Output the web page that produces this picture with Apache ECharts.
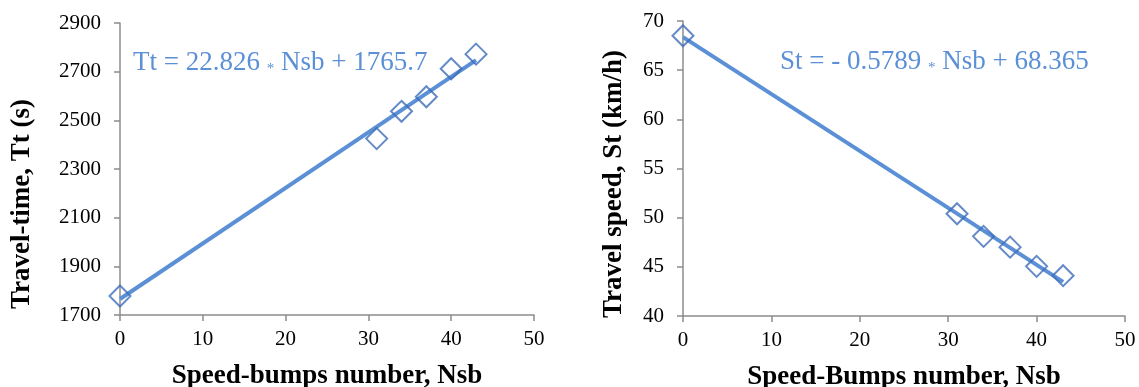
<!DOCTYPE html>
<html><head><meta charset="utf-8">
<script src="https://cdn.jsdelivr.net/npm/echarts@6/dist/echarts.min.js"></script>
<style>html,body{margin:0;padding:0;background:#fff}#c{width:1139px;height:387px}</style>
</head><body><div id="c"></div>
<script>
// Data
const nsb = [0, 31, 34, 37, 40, 43];
const travelTime = [1778, 2425, 2537, 2597, 2712, 2772];
const travelSpeed = [68.5, 50.4, 48.1, 47.0, 45.05, 44.1];
const ttFit = {slope: 22.826, intercept: 1765.7};
const stFit = {slope: -0.5789, intercept: 68.365};
const fitRange = [0, 43];
const xTicks = {min: 0, max: 50, interval: 10};
const ttTicks = {min: 1700, max: 2900, interval: 200};
const stTicks = {min: 40, max: 70, interval: 5};
const labels = {
  tt: 'Travel-time, Tt (s)', st: 'Travel speed, St (km/h)',
  x1: 'Speed-bumps number, Nsb', x2: 'Speed-Bumps number, Nsb'
};

const font = '"Liberation Serif","Times New Roman",serif';
const lineColor = '#5b8fd6';
const markColor = '#3d6db9';
const axisGray = '#8c8c8c';

function fitLine(f) { return fitRange.map(x => [x, f.slope * x + f.intercept]); }

function xAxis(idx, name) {
  return {
    type: 'value', gridIndex: idx, min: xTicks.min, max: xTicks.max, interval: xTicks.interval,
    name: name, nameLocation: 'middle', nameGap: 48,
    nameTextStyle: {fontFamily: font, fontSize: 27, fontWeight: 'bold', color: '#000'},
    axisLine: {show: true, onZero: false, lineStyle: {color: axisGray, width: 1.5}},
    axisTick: {show: true, length: 6, lineStyle: {color: axisGray, width: 1.5}},
    axisLabel: {fontFamily: font, fontSize: 21, color: '#000', margin: 14},
    splitLine: {show: false}
  };
}
function yAxis(idx, t) {
  return {
    type: 'value', gridIndex: idx, min: t.min, max: t.max, interval: t.interval,
    axisLine: {show: true, onZero: false, lineStyle: {color: axisGray, width: 1.5}},
    axisTick: {show: true, length: 6, lineStyle: {color: axisGray, width: 1.5}},
    axisLabel: {fontFamily: font, fontSize: 21, color: '#000', margin: 19,
                formatter: v => String(v)},
    splitLine: {show: false}
  };
}
const eqRich = {
  a: {fontFamily: font, fontSize: 27, fill: lineColor, lineHeight: 30},
  s: {fontFamily: font, fontSize: 15, fill: lineColor, lineHeight: 30, padding: [14, 0, 0, 0]}
};

const chart = echarts.init(document.getElementById('c'), null, {renderer: 'canvas'});
chart.setOption({
  animation: false,
  backgroundColor: '#fff',
  grid: [
    {left: 120, right: 605, top: 23, bottom: 72, containLabel: false, outerBoundsMode: 'none'},
    {left: 683, right: 14, top: 21, bottom: 71, containLabel: false, outerBoundsMode: 'none'}
  ],
  xAxis: [xAxis(0, labels.x1), xAxis(1, labels.x2)],
  yAxis: [yAxis(0, ttTicks), yAxis(1, stTicks)],
  series: [
    {type: 'line', xAxisIndex: 0, yAxisIndex: 0, data: fitLine(ttFit), showSymbol: false,
     lineStyle: {color: lineColor, width: 4}, z: 2},
    {type: 'scatter', xAxisIndex: 0, yAxisIndex: 0, data: nsb.map((x, i) => [x, travelTime[i]]),
     symbol: 'diamond', symbolSize: [21, 21],
     itemStyle: {color: 'rgba(255,255,255,0)', borderColor: markColor, borderWidth: 2}, z: 3},
    {type: 'line', xAxisIndex: 1, yAxisIndex: 1, data: fitLine(stFit), showSymbol: false,
     lineStyle: {color: lineColor, width: 4}, z: 2},
    {type: 'scatter', xAxisIndex: 1, yAxisIndex: 1, data: nsb.map((x, i) => [x, travelSpeed[i]]),
     symbol: 'diamond', symbolSize: [21, 21],
     itemStyle: {color: 'rgba(255,255,255,0)', borderColor: markColor, borderWidth: 2}, z: 3}
  ],
  graphic: [
    {type: 'text', left: 133, top: 48, style: {
      text: '{a|Tt = 22.826 }{s|*}{a| Nsb + 1765.7}', rich: eqRich}},
    {type: 'text', left: 780, top: 47, style: {
      text: '{a|St = - 0.5789 }{s|*}{a| Nsb + 68.365}', rich: eqRich}},
    {type: 'text', x: 22, y: 204, rotation: Math.PI / 2, style: {
      text: labels.tt, fontFamily: font, fontSize: 27, fontWeight: 'bold', fill: '#000',
      align: 'center', verticalAlign: 'middle'}},
    {type: 'text', x: 614, y: 184, rotation: Math.PI / 2, style: {
      text: labels.st, fontFamily: font, fontSize: 27, fontWeight: 'bold', fill: '#000',
      align: 'center', verticalAlign: 'middle'}}
  ]
});
</script></body></html>
